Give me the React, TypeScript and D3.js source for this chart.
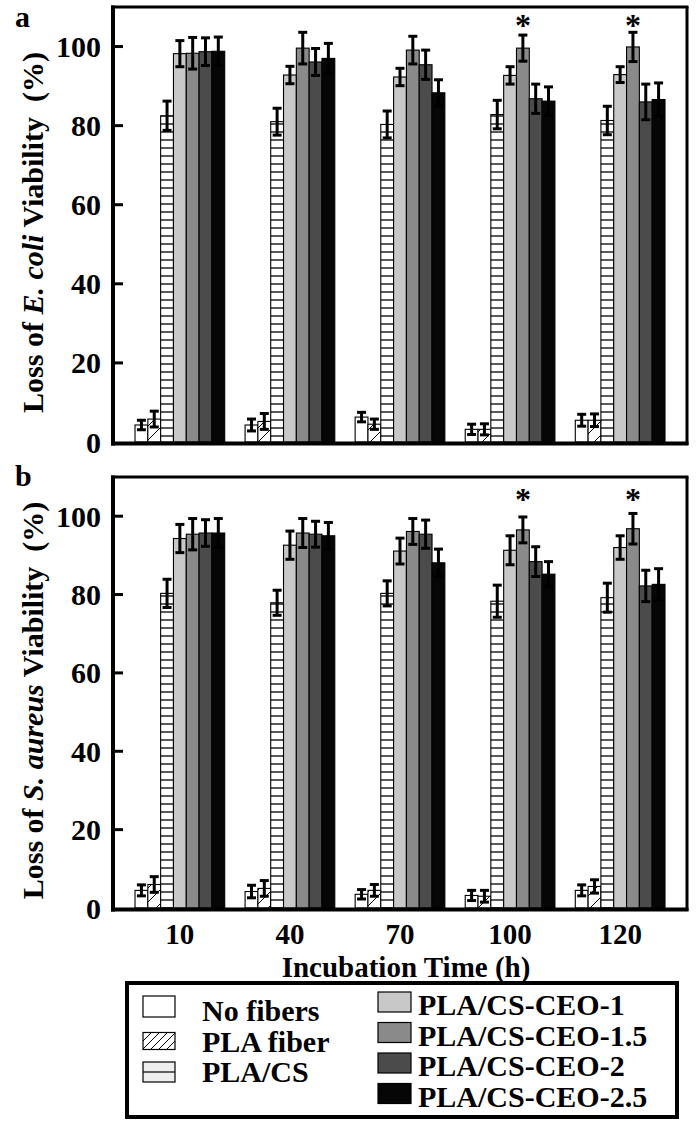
import React, { useEffect } from "react";
import * as d3 from "d3";

// ---------- data ----------
const times = ["10", "40", "70", "100", "120"];
const seriesNames = [
  "No fibers",
  "PLA fiber",
  "PLA/CS",
  "PLA/CS-CEO-1",
  "PLA/CS-CEO-1.5",
  "PLA/CS-CEO-2",
  "PLA/CS-CEO-2.5",
];
const yTicks = [0, 20, 40, 60, 80, 100];

// Panel a: E. coli
const ecoliNoFibers = [4.3, 4.3, 6.3, 3.2, 5.5];
const ecoliNoFibersErr = [1.2, 1.5, 1.2, 1.3, 1.5];
const ecoliPLAFiber = [5.8, 5.2, 4.5, 3.2, 5.5];
const ecoliPLAFiberErr = [2.0, 2.0, 1.3, 1.4, 1.6];
const ecoliPLACS = [82.5, 81.0, 80.3, 82.8, 81.3];
const ecoliPLACSErr = [3.7, 3.4, 3.4, 3.6, 3.6];
const ecoliCEO1 = [98.2, 92.8, 92.3, 92.7, 92.9];
const ecoliCEO1Err = [3.3, 2.2, 2.2, 2.2, 2.0];
const ecoliCEO15 = [98.3, 99.6, 99.1, 99.6, 99.9];
const ecoliCEO15Err = [4.0, 4.0, 3.5, 3.3, 3.7];
const ecoliCEO2 = [98.7, 96.1, 95.4, 86.8, 86.0];
const ecoliCEO2Err = [3.5, 3.4, 3.7, 3.7, 4.5];
const ecoliCEO25 = [98.8, 97.0, 88.3, 86.2, 86.6];
const ecoliCEO25Err = [3.6, 3.8, 3.3, 3.6, 4.2];
const ecoliSignificant = [false, false, false, true, true];
const ecoliStarLevel = 106.5;

// Panel b: S. aureus
const aureusNoFibers = [4.5, 4.2, 3.5, 3.2, 4.5];
const aureusNoFibersErr = [1.4, 1.6, 1.2, 1.3, 1.4];
const aureusPLAFiber = [6.0, 5.0, 4.5, 3.0, 5.5];
const aureusPLAFiberErr = [2.0, 2.0, 1.5, 1.5, 1.7];
const aureusPLACS = [80.3, 77.9, 80.3, 78.3, 79.2];
const aureusPLACSErr = [3.6, 3.2, 3.2, 4.1, 3.7];
const aureusCEO1 = [94.3, 92.6, 91.1, 91.3, 92.0];
const aureusCEO1Err = [3.6, 3.6, 3.3, 3.7, 3.0];
const aureusCEO15 = [95.4, 95.7, 96.1, 96.5, 96.8];
const aureusCEO15Err = [4.0, 3.7, 3.3, 3.3, 3.9];
const aureusCEO2 = [95.7, 95.4, 95.4, 88.4, 82.2];
const aureusCEO2Err = [3.4, 3.3, 3.6, 3.8, 4.0];
const aureusCEO25 = [95.7, 95.0, 88.1, 85.2, 82.6];
const aureusCEO25Err = [3.7, 3.4, 3.5, 3.2, 4.0];
const aureusSignificant = [false, false, false, true, true];
const aureusStarLevel = 105.5;

// ---------- styling ----------
const W = 697;
const H = 1124;
const FONT = "'Liberation Serif', 'Times New Roman', Times, serif";
const fills = ["#ffffff", "url(#diagHatch)", "url(#hLines)", "#c8c8c8", "#8a8a8a", "#4b4b4b", "#060606"];
const plotLeft = 113;
const plotRight = 687;

const panels = [
  {
    letter: "a",
    letterY: 27,
    top: 7,
    bottom: 442,
    organism: "E. coli",
    values: [ecoliNoFibers, ecoliPLAFiber, ecoliPLACS, ecoliCEO1, ecoliCEO15, ecoliCEO2, ecoliCEO25],
    errors: [ecoliNoFibersErr, ecoliPLAFiberErr, ecoliPLACSErr, ecoliCEO1Err, ecoliCEO15Err, ecoliCEO2Err, ecoliCEO25Err],
    significant: ecoliSignificant,
    starLevel: ecoliStarLevel,
    showX: false,
  },
  {
    letter: "b",
    letterY: 486,
    top: 477,
    bottom: 908,
    organism: "S. aureus",
    values: [aureusNoFibers, aureusPLAFiber, aureusPLACS, aureusCEO1, aureusCEO15, aureusCEO2, aureusCEO25],
    errors: [aureusNoFibersErr, aureusPLAFiberErr, aureusPLACSErr, aureusCEO1Err, aureusCEO15Err, aureusCEO2Err, aureusCEO25Err],
    significant: aureusSignificant,
    starLevel: aureusStarLevel,
    showX: true,
  },
];

const x0 = d3.scaleBand<string>().domain(times).range([plotLeft, plotRight]).paddingInner(0.185).paddingOuter(0.2);
const x1 = d3.scaleBand<string>().domain(seriesNames).range([0, x0.bandwidth()]).padding(0);

function Panel({ p }: { p: (typeof panels)[number] }) {
  const y = d3.scaleLinear().domain([0, 110]).range([p.bottom, p.top]);
  const mid = (p.top + p.bottom) / 2 + 8;
  const capW = 9;
  return (
    <g>
      {/* bars */}
      {seriesNames.map((s, si) =>
        times.map((t, ti) => {
          const v = p.values[si][ti];
          const bx = (x0(t) ?? 0) + (x1(s) ?? 0);
          const bw = x1.bandwidth();
          return (
            <rect
              key={`b-${si}-${ti}`}
              x={bx}
              y={y(v)}
              width={bw}
              height={y(0) - y(v)}
              fill={fills[si]}
              stroke="#000"
              strokeWidth={1.1}
            />
          );
        })
      )}
      {/* error bars */}
      {seriesNames.map((s, si) =>
        times.map((t, ti) => {
          const v = p.values[si][ti];
          const e = p.errors[si][ti];
          const cx = (x0(t) ?? 0) + (x1(s) ?? 0) + x1.bandwidth() / 2;
          const yt = y(v + e);
          const yb = y(v - e);
          return (
            <g key={`e-${si}-${ti}`} stroke="#000" strokeWidth={3}>
              <line x1={cx} x2={cx} y1={yt} y2={yb} />
              <line x1={cx - capW / 2} x2={cx + capW / 2} y1={yt} y2={yt} />
              <line x1={cx - capW / 2} x2={cx + capW / 2} y1={yb} y2={yb} />
            </g>
          );
        })
      )}
      {/* significance stars */}
      {times.map((t, ti) =>
        p.significant[ti] ? (
          <text
            key={`s-${ti}`}
            x={(x0(t) ?? 0) + (x1("PLA/CS-CEO-1.5") ?? 0) + x1.bandwidth() / 2}
            y={y(p.starLevel) + 15}
            textAnchor="middle"
            fontSize={32}
            fontWeight="bold"
            fontFamily={FONT}
          >
            *
          </text>
        ) : null
      )}
      {/* frame */}
      <g stroke="#000" fill="none">
        <line x1={plotLeft - 2} x2={plotRight + 1.5} y1={p.top} y2={p.top} strokeWidth={3} />
        <line x1={plotRight} x2={plotRight} y1={p.top} y2={p.bottom + 3} strokeWidth={3} />
        <line x1={plotLeft} x2={plotLeft} y1={p.top - 1.5} y2={p.bottom + 3.5} strokeWidth={4} />
        <line x1={plotLeft - 2} x2={plotRight + 1.5} y1={p.bottom + 1.5} y2={p.bottom + 1.5} strokeWidth={4} />
      </g>
      {/* y ticks */}
      {yTicks.map((tv) => (
        <g key={`t-${tv}`}>
          {tv > 0 && <line x1={plotLeft} x2={plotLeft + 10} y1={y(tv)} y2={y(tv)} stroke="#000" strokeWidth={3} />}
          <text
            x={101}
            y={y(tv)}
            dy="0.35em"
            textAnchor="end"
            fontSize={30}
            fontWeight="bold"
            fontFamily={FONT}
          >
            {tv}
          </text>
        </g>
      ))}
      {/* y label */}
      <text
        transform={`translate(43,${mid}) rotate(-90)`}
        textAnchor="middle"
        fontSize={30}
        fontWeight="bold"
        fontFamily={FONT}
        xmlSpace="preserve"
      >
        Loss of <tspan fontStyle="italic">{p.organism}</tspan> Viability  (%)
      </text>
      {/* panel letter */}
      <text x={15} y={p.letterY} fontSize={30} fontWeight="bold" fontFamily={FONT}>
        {p.letter}
      </text>
      {/* x ticks */}
      {p.showX &&
        times.map((t) => (
          <text
            key={`x-${t}`}
            x={(x0(t) ?? 0) + x0.bandwidth() / 2}
            y={944}
            textAnchor="middle"
            fontSize={29}
            fontWeight="bold"
            fontFamily={FONT}
          >
            {t}
          </text>
        ))}
    </g>
  );
}

function Legend() {
  const left = [0, 1, 2];
  const right = [3, 4, 5, 6];
  const leftBase = [1021, 1051.5, 1082];
  const rightBase = [1015, 1045.5, 1076, 1106.5];
  return (
    <g fontFamily={FONT} fontWeight="bold" fontSize={30}>
      <rect x={127} y={983} width={550} height={134} fill="#fff" stroke="#000" strokeWidth={4} />
      {left.map((si, i) => (
        <g key={`l-${si}`}>
          {si === 2 ? (
            <g>
              <rect x={143} y={leftBase[i] - 20} width={32} height={20} fill="#eeeeee" stroke="#000" strokeWidth={1.2} />
              <line x1={143} x2={175} y1={leftBase[i] - 10} y2={leftBase[i] - 10} stroke="#000" strokeWidth={1.2} />
            </g>
          ) : (
            <rect
              x={143}
              y={leftBase[i] - (si === 1 ? 19 : 25)}
              width={32}
              height={si === 1 ? 17 : 21}
              fill={si === 1 ? "url(#diagLegend)" : fills[si]}
              stroke="#000"
              strokeWidth={1.2}
            />
          )}
          <text x={202} y={leftBase[i]}>
            {seriesNames[si]}
          </text>
        </g>
      ))}
      {right.map((si, i) => (
        <g key={`r-${si}`}>
          <rect x={378} y={rightBase[i] - 23} width={33} height={20} fill={fills[si]} stroke="#000" strokeWidth={1.2} />
          <text x={418} y={rightBase[i]}>
            {seriesNames[si]}
          </text>
        </g>
      ))}
    </g>
  );
}

export default function App() {
  useEffect(() => {
    document.body.style.margin = "0";
  }, []);
  return (
    <svg width={W} height={H} viewBox={`0 0 ${W} ${H}`} style={{ display: "block", background: "#fff" }}>
      <defs>
        <pattern id="hLines" patternUnits="userSpaceOnUse" width={10} height={8}>
          <rect width={10} height={8} fill="#fff" />
          <line x1={0} x2={10} y1={4} y2={4} stroke="#000" strokeWidth={1.3} />
        </pattern>
        <pattern id="diagHatch" patternUnits="userSpaceOnUse" width={14} height={14}>
          <rect width={14} height={14} fill="#fff" />
          <path d="M0,14 L14,0 M-3,3 L3,-3 M11,17 L17,11" stroke="#000" strokeWidth={1} />
        </pattern>
        <pattern id="diagLegend" patternUnits="userSpaceOnUse" width={8} height={8}>
          <rect width={8} height={8} fill="#fff" />
          <path d="M0,8 L8,0 M-2,2 L2,-2 M6,10 L10,6" stroke="#000" strokeWidth={1} />
        </pattern>
      </defs>
      <rect width={W} height={H} fill="#fff" />
      {panels.map((p) => (
        <Panel key={p.letter} p={p} />
      ))}
      <text x={(plotLeft + plotRight) / 2 + 6} y={977} textAnchor="middle" fontSize={29} fontWeight="bold" fontFamily={FONT}>
        Incubation Time (h)
      </text>
      <Legend />
    </svg>
  );
}
